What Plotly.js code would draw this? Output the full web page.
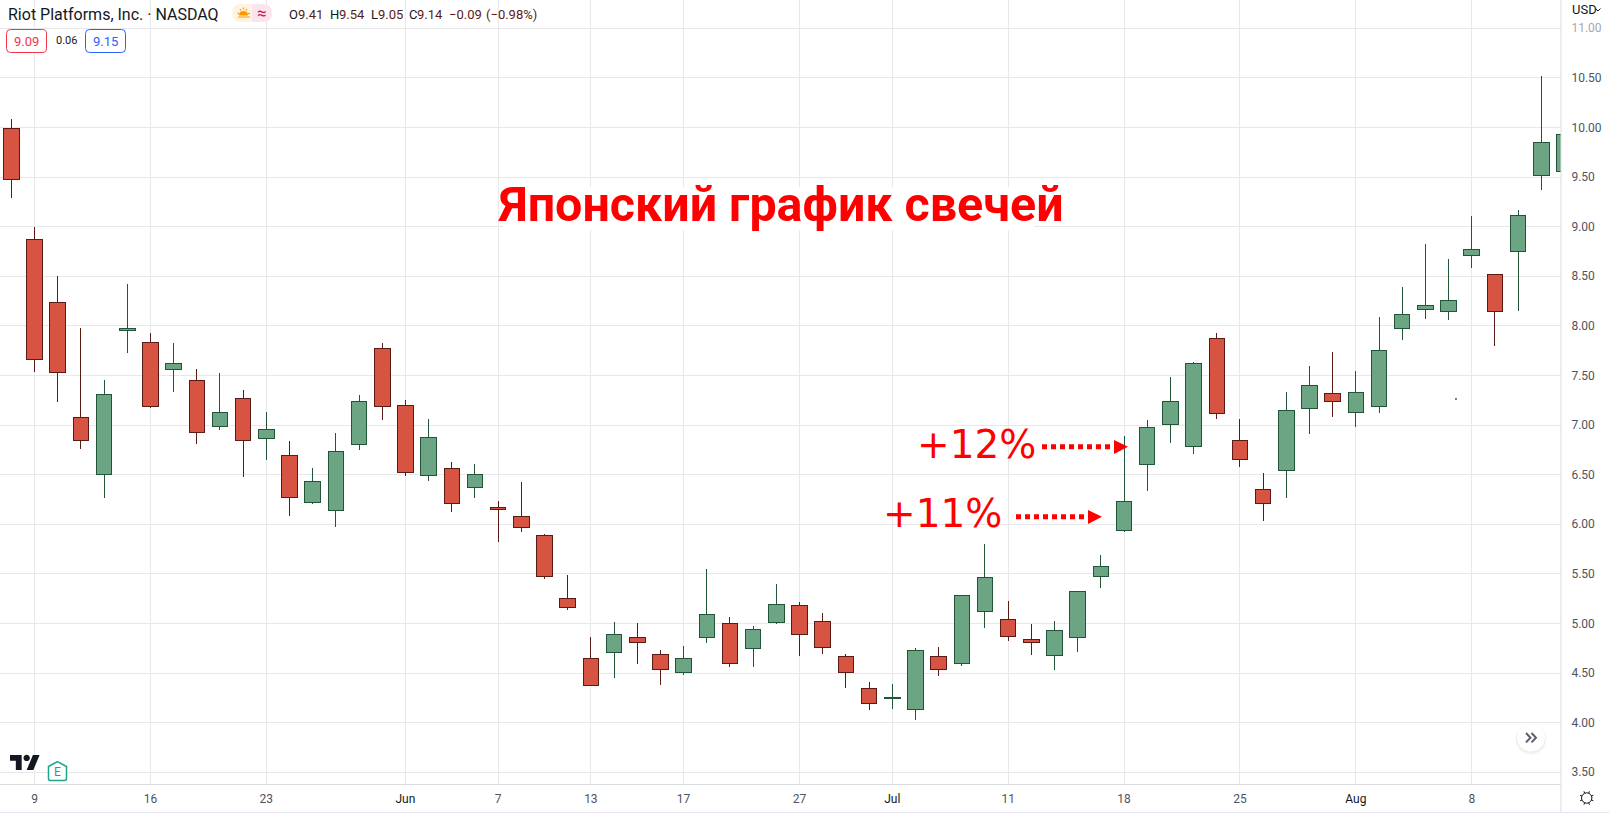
<!DOCTYPE html>
<html>
<head>
<meta charset="utf-8">
<script src="https://cdn.plot.ly/plotly-3.0.1.min.js"></script>
<style>html,body{margin:0;padding:0;background:#fff;overflow:hidden}#chart{width:1609px;height:813px}</style>
</head>
<body>
<div id="chart"></div>
<script>
const openPrices  = [9.99,8.87,8.24,7.075,6.50,7.95,7.83,7.56,7.45,6.985,7.27,6.865,6.69,6.22,6.14,6.805,7.77,7.195,6.49,6.56,6.37,6.17,6.08,5.89,5.25,4.645,4.706,4.857,4.686,4.505,4.857,5.0,4.746,5.01,5.18,5.017,4.666,4.345,4.245,4.13,4.666,4.595,5.118,5.04,4.837,4.676,4.857,5.47,5.94,6.60,7.01,6.784,7.87,6.845,6.35,6.54,7.166,7.317,7.126,7.186,7.97,8.17,8.15,8.71,8.517,8.75,9.52,9.555];
const highPrices  = [10.09,9.00,8.50,7.98,7.45,8.425,7.93,7.83,7.57,7.53,7.35,7.13,6.84,6.565,6.92,7.30,7.83,7.25,7.06,6.63,6.605,6.235,6.425,5.90,5.485,4.86,5.02,5.0,4.73,4.77,5.545,5.07,4.97,5.40,5.22,5.11,4.69,4.41,4.39,4.75,4.76,5.29,5.805,5.23,4.99,5.03,5.33,5.695,6.89,7.05,7.48,7.64,7.93,7.06,6.515,7.33,7.60,7.74,7.55,8.09,8.395,8.83,8.67,9.11,8.527,9.165,10.515,9.95];
const lowPrices   = [9.29,7.535,7.23,6.76,6.26,7.725,7.17,7.33,6.81,6.95,6.48,6.65,6.08,6.20,5.975,6.75,7.05,6.49,6.44,6.12,6.26,5.825,5.925,5.445,5.135,4.37,4.45,4.59,4.38,4.48,4.80,4.56,4.56,4.99,4.67,4.69,4.35,4.13,4.14,4.03,4.47,4.57,4.955,4.82,4.68,4.53,4.71,5.355,5.925,6.34,6.82,6.71,7.06,6.58,6.03,6.27,6.91,7.08,6.985,7.12,7.855,8.067,8.057,8.585,7.795,8.147,9.37,9.5];
const closePrices = [9.48,7.665,7.53,6.84,7.31,7.97,7.186,7.62,6.925,7.125,6.845,6.955,6.27,6.43,6.73,7.235,7.19,6.52,6.875,6.21,6.50,6.15,5.97,5.47,5.165,4.375,4.887,4.813,4.535,4.645,5.09,4.595,4.937,5.19,4.887,4.756,4.505,4.19,4.25,4.725,4.535,5.28,5.46,4.867,4.813,4.927,5.32,5.57,6.23,6.975,7.235,7.62,7.115,6.653,6.21,7.146,7.397,7.236,7.327,7.75,8.11,8.21,8.26,8.77,8.14,9.11,9.85,9.93];
const sessions = openPrices.map((_, i) => i);

const dateTickPositions = [1,6,11,17,21,25,29,34,38,43,48,53,58,63];
const dateTickLabels = ['9','16','23','<span style="color:#131722">Jun</span>','7','13','17','27','<span style="color:#131722">Jul</span>','11','18','25','<span style="color:#131722">Aug</span>','8'];
const priceTicks = [3.5,4,4.5,5,5.5,6,6.5,7,7.5,8,8.5,9,9.5,10,10.5,11];
const priceLabels = ['3.50','4.00','4.50','5.00','5.50','6.00','6.50','7.00','7.50','8.00','8.50','9.00','9.50','10.00','10.50','<span style="color:#a6a8b0">11.00</span>'];

const W = 1561, H = 784;
const axisFont = 'Roboto, sans-serif';
const GRID = '#e8e8ea', AXIS = '#dcdde1';
const UP_FILL='#6ba583', UP_LINE='#225437', DOWN_FILL='#d75442', DOWN_LINE='#5b1a13';
const toPaper = d => { let i = 0; return d.replace(/-?\d+(\.\d+)?/g, n => (i++ % 2 === 0 ? (+n / W) : (1 - +n / H)).toFixed(6)); };
const pathShape = (d, o={}) => Object.assign({type:'path', xref:'paper', yref:'paper', path:toPaper(d), line:{width:0}}, o);
const roundRect = (x0,y0,x1,y1,r) => `M${x0+r} ${y0} L${x1-r} ${y0} Q${x1} ${y0} ${x1} ${y0+r} L${x1} ${y1-r} Q${x1} ${y1} ${x1-r} ${y1} L${x0+r} ${y1} Q${x0} ${y1} ${x0} ${y1-r} L${x0} ${y0+r} Q${x0} ${y0} ${x0+r} ${y0} Z`;
const circlePath = (cx,cy,r) => { const k=r*0.5523; return `M${cx-r} ${cy} C${cx-r} ${cy-k} ${cx-k} ${cy-r} ${cx} ${cy-r} C${cx+k} ${cy-r} ${cx+r} ${cy-k} ${cx+r} ${cy} C${cx+r} ${cy+k} ${cx+k} ${cy+r} ${cx} ${cy+r} C${cx-k} ${cy+r} ${cx-r} ${cy+k} ${cx-r} ${cy} Z`; };
const label = (text, x, y, size, color, family, o={}) => Object.assign({text, xref:'paper', yref:'paper', x:x/W, y:1-y/H, xanchor:'left', yanchor:'middle', showarrow:false, borderpad:0, font:{size, color, family}}, o);

const shapes = [];
shapes.push({type:'rect', xref:'paper', yref:'paper', x0:503/W, x1:1034/W, y0:1-230/H, y1:1-187/H, fillcolor:'#fff', line:{width:0}});
shapes.push({type:'line', xref:'paper', yref:'paper', x0:1561/W, x1:1561/W, y0:1, y1:1-813/H, line:{color:AXIS, width:1}});
shapes.push({type:'line', xref:'paper', yref:'paper', x0:0, x1:1609/W, y0:1-812.5/H, y1:1-812.5/H, line:{color:'#e6e3f2', width:1}});
[[1042,1113,446.7,1114,1128,440,454],[1016,1087,516.7,1088,1102,510,524]].forEach(a => {
  shapes.push({type:'line', xref:'paper', yref:'paper', x0:a[0]/W, x1:a[1]/W, y0:1-a[2]/H, y1:1-a[2]/H, line:{color:'#ff0000', width:5, dash:'5px,4px'}});
  shapes.push(pathShape(`M${a[3]} ${a[5]} L${a[4]} ${a[2]} L${a[3]} ${a[6]} Z`, {fillcolor:'#ff0000'}));
});
shapes.push(pathShape(circlePath(1456,399,0.9), {fillcolor:'#333'}));
shapes.push(pathShape(roundRect(6.5,29.5,46.5,52.5,4), {fillcolor:'#fff', line:{color:'#f23645', width:1}}));
shapes.push(pathShape(roundRect(85.5,29.5,125.5,52.5,4), {fillcolor:'#fff', line:{color:'#2962ff', width:1}}));
shapes.push(pathShape('M241 4 L252 4 L252 22 L241 22 Q232 22 232 13 Q232 4 241 4 Z', {fillcolor:'#fff3e0'}));
shapes.push(pathShape('M252 4 L263 4 Q272 4 272 13 Q272 22 263 22 L252 22 Z', {fillcolor:'#fce4ec'}));
shapes.push(pathShape('M239 15.5 Q239 11 243.5 11 Q248 11 248 15.5 Z', {fillcolor:'#ff9800'}));
shapes.push(pathShape('M238 17 L250 17 M237.5 13 L239 14 M250 13 L248 14 M243.5 7.5 L243.5 9.5 M240 9 L241 10.5 M247 9 L246 10.5', {line:{color:'#ff9800', width:1.2}}));
const lx = v => (10 + v*0.8333).toFixed(2), ly = v => (755 + (v-4)*0.8333).toFixed(2);
const pts = (arr) => arr.map((p,i)=>(i?'L':'M')+lx(p[0])+' '+ly(p[1])).join(' ')+' Z';
shapes.push(pathShape(pts([[14,22],[7,22],[7,11],[0,11],[0,4],[14,4]]), {fillcolor:'#131722'}));
shapes.push(pathShape(pts([[28,22],[20,22],[27.5,4],[35.5,4]]), {fillcolor:'#131722'}));
shapes.push(pathShape(circlePath(+lx(20),+ly(7.5),3.2), {fillcolor:'#131722'}));
shapes.push(pathShape('M48.5 766.5 L57.5 761.5 L66.5 766.5 L66.5 778.5 Q66.5 780.5 64.5 780.5 L50.5 780.5 Q48.5 780.5 48.5 778.5 Z', {fillcolor:'#fff', line:{color:'#1ba58f', width:1.5}}));
shapes.push(pathShape(circlePath(1531,739.5,15.5), {fillcolor:'rgba(0,0,0,0.03)'}));
shapes.push(pathShape(circlePath(1531,738.5,14.8), {fillcolor:'rgba(0,0,0,0.04)'}));
shapes.push(pathShape(circlePath(1531,737.5,14), {fillcolor:'#fff'}));
shapes.push(pathShape('M1526 733 L1530.5 737.7 L1526 742.4 M1531.5 733 L1536 737.7 L1531.5 742.4', {line:{color:'#5d606b', width:2}}));
shapes.push(pathShape(circlePath(1586.7,798,5.2), {fillcolor:'#fff', line:{color:'#131722', width:1}}));
for (let k=0;k<8;k++){ const t=k*Math.PI/4+Math.PI/8, c=Math.cos(t), s=Math.sin(t);
  shapes.push(pathShape(`M${(1586.7+5*c).toFixed(2)} ${(798+5*s).toFixed(2)} L${(1586.7+7.2*c).toFixed(2)} ${(798+7.2*s).toFixed(2)}`, {line:{color:'#131722', width:1}}));
}
shapes.push(pathShape('M1595.5 8.5 L1598 11 L1600.5 8.5', {line:{color:'#131722', width:1}}));

const hdr = 'Roboto, sans-serif';
const titleFont = {size:48.4, color:'#ff0000', family:'Roboto, sans-serif', weight:700};
const annotations = [
  label('Японский график свечей', 780.5, 204.5, 48.4, '#ff0000', titleFont.family, {xanchor:'center', font:titleFont}),
  label('+12%', 916, 444, 39, '#ff0000', '"DejaVu Sans", sans-serif'),
  label('+11%', 882, 513, 39, '#ff0000', '"DejaVu Sans", sans-serif'),
  label('Riot Platforms, Inc. · NASDAQ', 7, 14.5, 16, '#131722', hdr),
  label('≈', 256, 12.5, 17, '#c2185b', hdr),
  label('O', 287.5, 15, 13, '#131722', hdr), label('9.41', 296.5, 15, 13, DOWN_LINE, hdr),
  label('H', 328.6, 15, 13, '#131722', hdr), label('9.54', 337.8, 15, 13, DOWN_LINE, hdr),
  label('L', 369.6, 15, 13, '#131722', hdr), label('9.05', 376.6, 15, 13, DOWN_LINE, hdr),
  label('C', 408, 15, 13, '#131722', hdr), label('9.14', 416.4, 15, 13, DOWN_LINE, hdr),
  label('−0.09', 448, 15, 13, DOWN_LINE, hdr), label('(−0.98%)', 485, 15, 13, DOWN_LINE, hdr),
  label('9.09', 26.5, 41.5, 13, '#f23645', hdr, {xanchor:'center'}),
  label('0.06', 66, 41, 11, '#131722', hdr, {xanchor:'center'}),
  label('9.15', 105.5, 41.5, 13, '#2962ff', hdr, {xanchor:'center'}),
  label('E', 57.5, 772, 12, '#1ba58f', hdr, {xanchor:'center'}),
  label('USD', 1571.5, 9.5, 13, '#131722', hdr)
];

const trace = {
  type:'candlestick', x:sessions, open:openPrices, high:highPrices, low:lowPrices, close:closePrices,
  increasing:{fillcolor:UP_FILL, line:{color:UP_LINE, width:1}},
  decreasing:{fillcolor:DOWN_FILL, line:{color:DOWN_LINE, width:1}},
  hoverinfo:'skip', whiskerwidth:0, showlegend:false
};

const layout = {
  width:1609, height:813, margin:{l:0, r:48, t:0, b:29, pad:0},
  paper_bgcolor:'#fff', plot_bgcolor:'#fff', showlegend:false, boxgap:0.33, boxgroupgap:0,
  font:{family:axisFont, color:'#50535e', size:12},
  xaxis:{type:'linear', range:[-0.49,66.85], rangeslider:{visible:false}, tickmode:'array', tickvals:dateTickPositions, ticktext:dateTickLabels,
    showgrid:true, gridcolor:GRID, gridwidth:1, zeroline:false, showline:true, linecolor:AXIS, linewidth:1,
    ticks:'outside', ticklen:4, tickcolor:'rgba(0,0,0,0)', tickangle:0, tickfont:{family:axisFont, size:12, color:'#50535e'}},
  yaxis:{type:'linear', side:'right', range:[3.382,11.285], tickmode:'array', tickvals:priceTicks, ticktext:priceLabels,
    showgrid:true, gridcolor:GRID, gridwidth:1, zeroline:false, showline:false,
    ticks:'outside', ticklen:7, tickcolor:'rgba(0,0,0,0)', tickfont:{family:axisFont, size:12, color:'#50535e'}},
  shapes, annotations
};
Plotly.newPlot('chart', [trace], layout, {staticPlot:true, displayModeBar:false, responsive:false}).then(gd => {
  // candlesticks carry no median: drop the library's offset median stroke and keep edges crisp
  gd.querySelectorAll('path.box').forEach(p => {
    p.setAttribute('d', p.getAttribute('d').replace(/^M[^M]*(?=M)/, ''));
    p.style.shapeRendering = 'crispEdges';
  });
});
</script>
</body>
</html>
